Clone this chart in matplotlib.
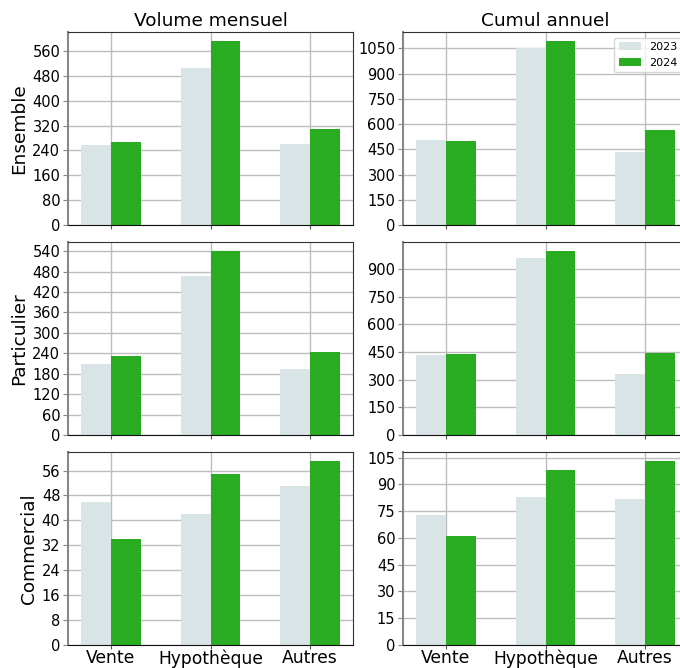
import numpy as np
import matplotlib
matplotlib.use("Agg")
import matplotlib.pyplot as plt

# ==== DATA ====
categories = ["Vente", "Hypothèque", "Autres"]
rows = ["Ensemble", "Particulier", "Commercial"]
cols = ["Volume mensuel", "Cumul annuel"]
years = ["2023", "2024"]

ensemble_mensuel_2023 = [258, 505, 261]
ensemble_mensuel_2024 = [267, 592, 309]
ensemble_annuel_2023 = [504, 1050, 433]
ensemble_annuel_2024 = [498, 1093, 564]

particulier_mensuel_2023 = [210, 466, 195]
particulier_mensuel_2024 = [233, 540, 245]
particulier_annuel_2023 = [433, 960, 330]
particulier_annuel_2024 = [438, 998, 444]

commercial_mensuel_2023 = [46, 42, 51]
commercial_mensuel_2024 = [34, 55, 59]
commercial_annuel_2023 = [73, 83, 82]
commercial_annuel_2024 = [61, 98, 103]

panels = [
    [(ensemble_mensuel_2023, ensemble_mensuel_2024), (ensemble_annuel_2023, ensemble_annuel_2024)],
    [(particulier_mensuel_2023, particulier_mensuel_2024), (particulier_annuel_2023, particulier_annuel_2024)],
    [(commercial_mensuel_2023, commercial_mensuel_2024), (commercial_annuel_2023, commercial_annuel_2024)],
]
ystep = [[80, 150], [60, 150], [8, 15]]

# ==== STYLE ====
c2023 = "#d8e4e5"
c2024 = "#2aac22"
w = 0.3

fig = plt.figure(figsize=(6.8, 6.68), dpi=100)
W, H = 680.0, 668.0
lefts = [68, 403]
tops = [32, 242, 452]
aw, ah = 285, 193

x = np.arange(len(categories))
for r in range(3):
    for c in range(2):
        ax = fig.add_axes([lefts[c] / W, 1 - (tops[r] + ah) / H, aw / W, ah / H])
        v23, v24 = panels[r][c]
        ax.bar(x - w / 2, v23, w, color=c2023, label=years[0], zorder=2)
        ax.bar(x + w / 2, v24, w, color=c2024, label=years[1], zorder=2)
        ax.set_xticks(x)
        ax.yaxis.set_major_locator(plt.MultipleLocator(ystep[r][c]))
        ax.grid(True, color="#bdbdbd", linewidth=1.0, zorder=0)
        ax.set_axisbelow(True)
        ax.tick_params(axis="y", labelsize=10.5, color="#888888", pad=2)
        ax.tick_params(axis="x", labelsize=12.3, color="#555555", length=3, pad=0)
        ax.spines["left"].set_color("#888888")
        ax.spines["left"].set_linewidth(1.5)
        ax.spines["bottom"].set_color("#111111")
        ax.spines["top"].set_color("#333333")
        ax.spines["right"].set_color("#333333")
        if r == 2:
            ax.set_xticklabels(categories)
        else:
            ax.set_xticklabels([])
        if r == 0:
            ax.set_title(cols[c], fontsize=13.3, pad=4)
        if c == 0:
            ax.set_ylabel(rows[r], fontsize=13.3, labelpad=3)
        if r == 0 and c == 1:
            ax.legend(loc="upper right", fontsize=8, framealpha=0.8)

fig.savefig("out.png", dpi=100)
